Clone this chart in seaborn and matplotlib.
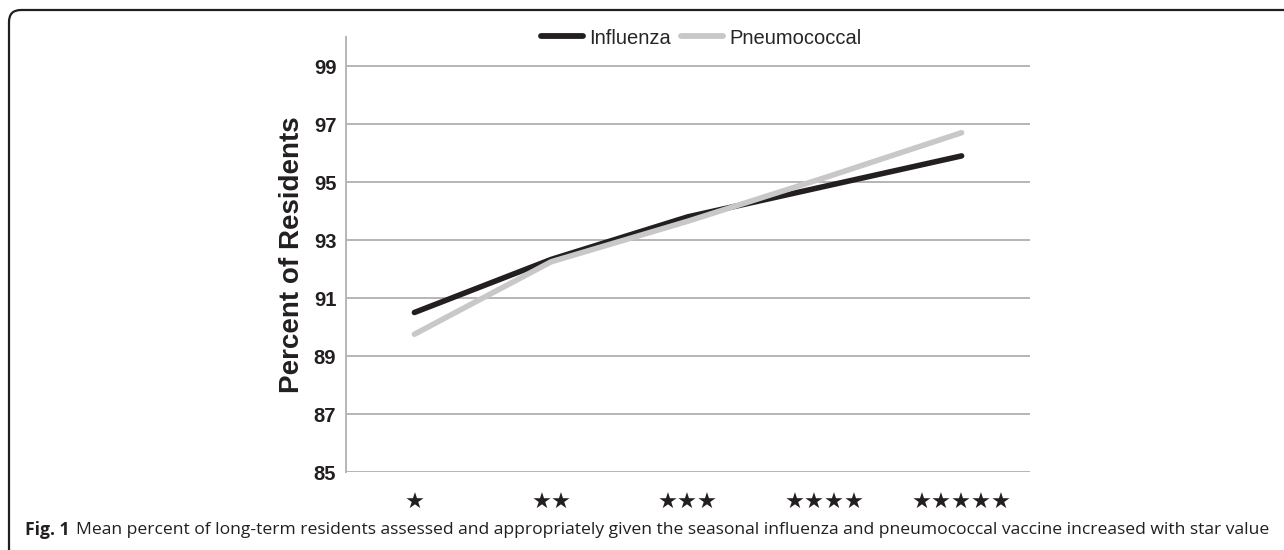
import pandas as pd
import numpy as np
import matplotlib.pyplot as plt
import matplotlib.patches as mpatches
from matplotlib.transforms import IdentityTransform
import seaborn as sns

# values
star_labels = ['★', '★★', '★★★', '★★★★', '★★★★★']
influenza = [90.5, 92.33, 93.8, 94.85, 95.9]
pneumococcal = [89.75, 92.25, 93.65, 95.15, 96.7]
y_ticks = [85, 87, 89, 91, 93, 95, 97, 99]

df = pd.DataFrame({
    'pos': list(range(5)) * 2,
    'value': influenza + pneumococcal,
    'vaccine': ['Influenza'] * 5 + ['Pneumococcal'] * 5,
})

sns.set_style('white')
plt.rcParams['font.family'] = ['Liberation Sans', 'DejaVu Sans']

fig = plt.figure(figsize=(12.84, 5.5), dpi=100)
ax = fig.add_axes([346 / 1284, 1 - 472 / 550, 684 / 1284, 435 / 550])

sns.lineplot(data=df, x='pos', y='value', hue='vaccine',
             palette={'Influenza': '#231f20', 'Pneumococcal': '#c8c8c8'},
             lw=4.0, ax=ax, legend=False, solid_capstyle='round')

ax.set_xlim(-0.5, 4.5)
ax.set_ylim(85, 100)
ax.set_yticks(y_ticks)
ax.set_xticks(range(len(star_labels)))
ax.set_xticklabels(star_labels, fontsize=16, color='#231f20', family=['DejaVu Sans'])
ax.yaxis.grid(True, color='#b5b5b5', lw=1.4)
ax.set_axisbelow(True)
for s in ['top', 'right', 'bottom']:
    ax.spines[s].set_visible(False)
ax.spines['left'].set_color('#b5b5b5')
ax.spines['left'].set_linewidth(1.4)
ax.tick_params(axis='y', length=0, pad=7, labelsize=14.5)
ax.tick_params(axis='x', length=0, pad=15)
for t in ax.get_yticklabels():
    t.set_fontweight('bold')
    t.set_color('#231f20')
ax.set_xlabel('')
ax.set_ylabel('Percent of Residents', fontsize=20, fontweight='bold',
              color='#231f20', labelpad=6)

# legend
handles = [plt.Line2D([], [], color='#231f20', lw=4.2, solid_capstyle='round'),
           plt.Line2D([], [], color='#c8c8c8', lw=4.2, solid_capstyle='round')]
fig.legend(handles, ['Influenza', 'Pneumococcal'], loc='center left',
           bbox_to_anchor=(541 / 1284, 1 - 38 / 550), ncol=2, frameon=False,
           borderpad=0, borderaxespad=0,
           handlelength=2.1, handletextpad=0.3, columnspacing=0.5,
           prop={'family': ['Liberation Sans'], 'size': 14.5})

# caption
cap_y = 1 - 530 / 550
bold = fig.text(25 / 1284, cap_y, 'Fig. 1', fontsize=12.6, fontweight='bold',
                family=['Open Sans'], color='#231f20', va='center')
renderer = fig.canvas.get_renderer()
bb = bold.get_window_extent(renderer)
fig.text((bb.x1 + 7) / 1284, cap_y,
         'Mean percent of long-term residents assessed and appropriately given the '
         'seasonal influenza and pneumococcal vaccine increased with star value',
         fontsize=12.6, family=['Open Sans'], color='#231f20', va='center')

# frame round the figure panel
frame = mpatches.FancyBboxPatch((9, -60), 1400, 600, boxstyle='round,pad=0,rounding_size=12',
                                transform=IdentityTransform(), fill=False,
                                edgecolor='#231f20', lw=1.6)
fig.patches.append(frame)

fig.savefig('out.png', dpi=100)
